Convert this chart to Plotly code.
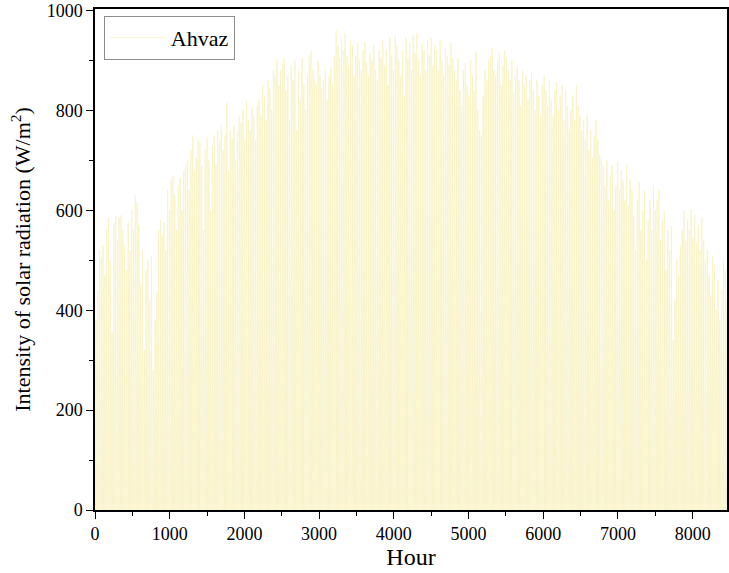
import plotly.graph_objects as go

# Daily peak solar radiation (W/m^2), one value per day
daily_peak = [
    380, 440, 520, 505, 530, 470, 560, 585, 500, 355,
    575, 590, 540, 585, 590, 560, 530, 480, 575, 520,
    600, 560, 630, 615, 570, 450, 520, 320, 480, 500,
    420, 510, 280, 380, 435, 560, 580, 550, 575, 520,
    640, 600, 660, 670, 630, 560, 650, 665, 600, 680,
    690, 700, 640, 720, 750, 680, 705, 740, 735, 690,
    560, 720, 745, 700, 600, 730, 750, 690, 760, 740,
    770, 720, 750, 815, 680, 760, 745, 770, 700, 760,
    790, 775, 800, 740, 820, 780, 760, 805, 790, 740,
    810, 820, 790, 850, 830, 780, 860, 845, 800, 880,
    870, 900, 850, 880, 895, 905, 840, 870, 780, 890,
    860, 900, 760, 880, 820, 905, 850, 800, 870, 910,
    918, 880, 860, 850, 900, 870, 845, 860, 880, 820,
    870, 885, 855, 910, 960, 930, 905, 945, 920, 955,
    910, 890, 940, 930, 870, 910, 935, 900, 880, 920,
    938, 895, 870, 915, 900, 930, 880, 860, 920, 905,
    940, 890, 920, 850, 945, 910, 880, 950, 930, 900,
    870, 920, 830, 945, 905, 935, 880, 950, 915, 955,
    900, 870, 935, 920, 880, 940, 910, 945, 890, 930,
    920, 880, 940, 900, 870, 925, 910, 890, 935, 905,
    880, 860, 905, 840, 810, 880, 895, 850, 830, 900,
    870, 840, 918, 800, 760, 750, 830, 880, 860, 900,
    910, 925, 880, 870, 900, 915, 850, 890, 920, 905,
    880, 860, 900, 835, 870, 890, 860, 810, 880, 850,
    870, 820, 860, 877, 840, 800, 860, 830, 790, 850,
    870, 840, 810, 860, 820, 790, 840, 857, 800, 830,
    850, 780, 840, 810, 763, 800, 830, 780, 850, 810,
    790, 760, 780, 740, 790, 720, 760, 705, 750, 780,
    740, 710, 703, 690, 650, 700, 620, 670, 690, 600,
    650, 697, 640, 680, 660, 620, 690, 610, 660, 640,
    590, 520, 620, 657, 560, 600, 640, 500, 580, 620,
    560, 650, 600, 620, 640, 540, 580, 600, 480, 560,
    520, 568, 340, 420, 500, 470, 530, 560, 600, 540,
    580, 560, 602, 545, 590, 535, 570, 520, 585, 540,
    500, 522, 470, 430, 510, 490, 400, 460, 380, 440,
    500, 480, 420, 380, 460, 410, 340, 450, 400, 420,
    380, 440, 360, 420, 400,
]

# Hours of the day for sunrise / solar noon / sunset
sunrise_hour, noon_hour, sunset_hour = 6, 12, 18

x_tick_vals = [0, 1000, 2000, 3000, 4000, 5000, 6000, 7000, 8000]
y_tick_vals = [0, 200, 400, 600, 800, 1000]

hours, values = [], []
for d, peak in enumerate(daily_peak):
    base = 24 * d
    hours += [base + sunrise_hour, base + noon_hour, base + sunset_hour]
    values += [0, peak, 0]

fig = go.Figure()
fig.add_trace(go.Scatter(
    x=hours, y=values, mode="lines", name="Ahvaz",
    line=dict(color="#F8F3C6", width=0.9),
))

font_family = "Liberation Serif, Times New Roman, serif"
fig.update_layout(
    width=729, height=573, autosize=False,
    margin=dict(l=95, r=2, t=9, b=63),
    paper_bgcolor="white", plot_bgcolor="white",
    font=dict(family=font_family, color="black", size=18),
    showlegend=True,
    legend=dict(x=0.014, y=0.987, xanchor="left", yanchor="top",
                bordercolor="#8c8c8c", borderwidth=1, bgcolor="white",
                itemwidth=56, tracegroupgap=0,
                font=dict(size=22, family=font_family)),
    xaxis=dict(
        range=[0, 8460], tickvals=x_tick_vals, ticks="outside", ticklen=7, tickwidth=1.3,
        tickcolor="black", showgrid=False, zeroline=False, automargin=False,
        showline=True, linecolor="black", linewidth=1.5, mirror=True,
        minor=dict(dtick=500, tick0=0, ticks="outside", ticklen=4, tickcolor="black", tickwidth=1),
        title=dict(text="Hour", font=dict(size=24), standoff=4),
        tickfont=dict(size=18),
    ),
    yaxis=dict(
        range=[0, 1003], tickvals=y_tick_vals, ticks="outside", ticklen=7, tickwidth=1.3,
        tickcolor="black", showgrid=False, zeroline=False, automargin=False,
        showline=True, linecolor="black", linewidth=1.5, mirror=True,
        minor=dict(dtick=100, tick0=0, ticks="outside", ticklen=4, tickcolor="black", tickwidth=1),
        title=dict(text="Intensity of solar radiation (W/m<sup>2</sup>)", font=dict(size=22), standoff=10),
        tickfont=dict(size=18),
    ),
)

fig.write_html(
    "out.html",
    config={"responsive": False, "displayModeBar": False},
    post_script="document.body.style.margin='0';document.body.style.padding='0';"
                "Plotly.Plots.resize(document.getElementById('{plot_id}'));",
)
